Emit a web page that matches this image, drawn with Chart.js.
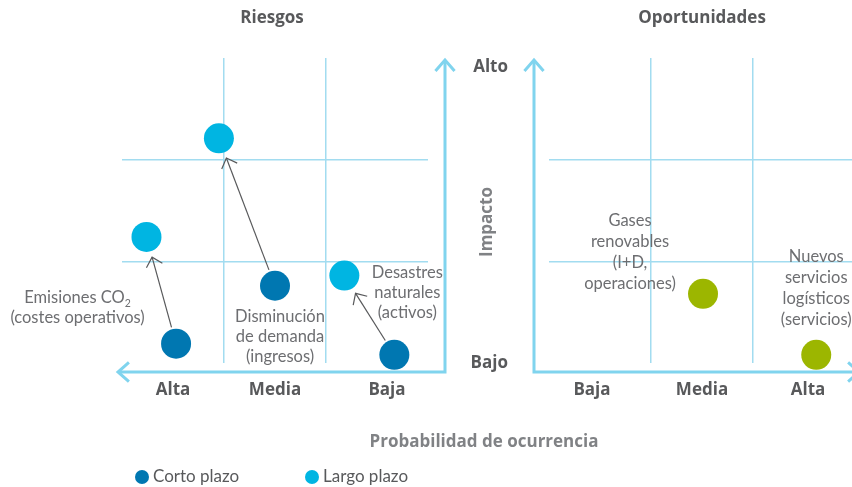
<!DOCTYPE html>
<html><head><meta charset="utf-8">
<script src="https://cdn.jsdelivr.net/npm/chart.js@4.4.1/dist/chart.umd.min.js"></script>
<style>
html,body{margin:0;padding:0;background:#fff;}
#wrap{position:relative;width:852px;height:487px;overflow:hidden;}
canvas{position:absolute;left:0;top:0;}
</style></head><body>
<div id="wrap">
<canvas id="c1" width="870" height="487"></canvas>
<canvas id="c2" width="870" height="487"></canvas>
</div>
<script>
// ---------- DATA ----------
const riskCategories = ['Baja', 'Media', 'Alta'];     // probability bands 0-1, 1-2, 2-3 (axis reversed)
const oppCategories = ['Baja', 'Media', 'Alta'];
const impactTicks = ['Bajo', 'Alto'];
const seriesNames = ['Corto plazo', 'Largo plazo'];
const chartTitles = ['Riesgos', 'Oportunidades'];
const axisTitles = ['Impacto', 'Probabilidad de ocurrencia'];

const riskLabels = [['Emisiones CO₂', '(costes operativos)'], ['Disminución', 'de demanda', '(ingresos)'], ['Desastres', 'naturales', '(activos)']];
const riskShortProb = [2.47, 1.50, 0.33];
const riskShortImpact = [0.19, 0.76, 0.08];
const riskLongProb = [2.76, 2.05, 0.82];
const riskLongImpact = [1.24, 2.21, 0.86];

const oppLabels = [['Gases', 'renovables', '(I+D,', 'operaciones)'], ['Nuevos', 'servicios', 'logísticos', '(servicios)']];
const oppProb = [1.51, 2.62];
const oppImpact = [0.68, 0.08];

// ---------- STYLE ----------
const COL = { dark: '#0077b1', light: '#00b5e2', green: '#9cb600', grid: '#a2dcf0', axis: '#80d4ee', text: '#58595b', note: '#6d6e71', arrow: '#58595b' };
const FB = '"Open Sans", sans-serif';
const FR = 'Lato, sans-serif';
const NOTE_SIZE = 16.5;
const riskNoteOffsets = [[-98.5, -41, 20], [5, 36, 20], [13, -77, 20]];   // relative to short-term point
const oppNoteOffsets = [[-73, -68, 21], [0, -93, 21]];

const pts = (xs, ys) => xs.map((x, i) => ({ x: x, y: ys[i] }));

function arrowHead(ctx, x, y, ang, len, half) {
  ctx.beginPath();
  ctx.moveTo(x - len * Math.cos(ang - half), y - len * Math.sin(ang - half));
  ctx.lineTo(x, y);
  ctx.lineTo(x - len * Math.cos(ang + half), y - len * Math.sin(ang + half));
  ctx.stroke();
}
function drawLines(ctx, lines, cx, y0, lh) {
  ctx.fillStyle = COL.note;
  ctx.textBaseline = 'alphabetic';
  lines.forEach((ln, i) => {
    const y = y0 + i * lh;
    const k = ln.indexOf('₂');
    ctx.font = NOTE_SIZE + 'px ' + FR;
    if (k >= 0) {
      const main = ln.slice(0, k);
      const w1 = ctx.measureText(main).width;
      ctx.font = '10.5px ' + FR;
      const w2 = ctx.measureText('2').width;
      const x0 = cx - (w1 + w2) / 2;
      ctx.textAlign = 'left';
      ctx.font = NOTE_SIZE + 'px ' + FR; ctx.fillText(main, x0, y);
      ctx.font = '10.5px ' + FR; ctx.fillText('2', x0 + w1, y + 4);
    } else {
      ctx.textAlign = 'center';
      ctx.fillText(ln, cx, y);
    }
  });
}

function scaleOpts(reverse) {
  return {
    type: 'linear', min: 0, max: 3, reverse: reverse,
    afterBuildTicks: s => { s.ticks = [{ value: 1 }, { value: 2 }]; },
    ticks: { display: false },
    grid: { color: COL.grid, lineWidth: 1.5, drawTicks: false },
    border: { display: false }
  };
}

const axisPlugin = {
  id: 'axes',
  beforeDatasetsDraw(chart, args, o) {
    const ctx = chart.ctx, ca = chart.chartArea, xs = chart.scales.x;
    ctx.save();
    ctx.strokeStyle = COL.axis; ctx.lineWidth = 3; ctx.lineCap = 'butt'; ctx.lineJoin = 'miter';
    const ax = o.side === 'right' ? ca.right + 17 : ca.left - 15;
    const ay = ca.bottom + 9;
    const xEnd = o.side === 'right' ? ca.left - 4 : ca.right + 4;
    ctx.beginPath();
    ctx.moveTo(ax, ca.top + 2); ctx.lineTo(ax, ay); ctx.lineTo(xEnd, ay);
    ctx.stroke();
    arrowHead(ctx, ax, ca.top + 2, -Math.PI / 2, 14.5, 0.72);
    arrowHead(ctx, xEnd, ay, o.side === 'right' ? Math.PI : 0, 14.5, 0.72);
    // category labels
    ctx.fillStyle = COL.text; ctx.font = 'bold 17px ' + FB;
    ctx.textAlign = 'center'; ctx.textBaseline = 'middle';
    o.cats.forEach((c, i) => ctx.fillText(c, xs.getPixelForValue(i + 0.5) + o.catShift[i], ay + 18));
    // title
    ctx.fillText(o.title, (ca.left + ca.right) / 2 + o.titleShift, ca.top - 40);
    ctx.restore();
  },
  afterDatasetsDraw(chart, args, o) {
    const ctx = chart.ctx, xs = chart.scales.x, ys = chart.scales.y;
    ctx.save();
    if (o.pairs) {
      ctx.strokeStyle = COL.arrow; ctx.lineWidth = 1.2;
      const a = chart.data.datasets[0].data, b = chart.data.datasets[1].data;
      a.forEach((p, i) => {
        const x1 = xs.getPixelForValue(p.x), y1 = ys.getPixelForValue(p.y);
        const x2 = xs.getPixelForValue(b[i].x), y2 = ys.getPixelForValue(b[i].y);
        const d = Math.hypot(x2 - x1, y2 - y1), ux = (x2 - x1) / d, uy = (y2 - y1) / d;
        const sx = x1 + ux * 17, sy = y1 + uy * 17, ex = x2 - ux * 21, ey = y2 - uy * 21;
        ctx.beginPath(); ctx.moveTo(sx, sy); ctx.lineTo(ex, ey); ctx.stroke();
        arrowHead(ctx, ex, ey, Math.atan2(uy, ux), 12, 0.76);
      });
    }
    const base = chart.data.datasets[0].data;
    o.notes.forEach((lines, i) => {
      const off = o.noteOffsets[i];
      drawLines(ctx, lines, xs.getPixelForValue(base[i].x) + off[0], ys.getPixelForValue(base[i].y) + off[1], off[2]);
    });
    if (o.legend) {
      ctx.font = '17px ' + FR; ctx.textBaseline = 'middle'; ctx.textAlign = 'left';
      const lx = [142, 312];
      chart.data.datasets.forEach((ds, i) => {
        ctx.fillStyle = ds.backgroundColor;
        ctx.beginPath(); ctx.arc(lx[i], 477, 7, 0, Math.PI * 2); ctx.fill();
        ctx.fillStyle = COL.text; ctx.fillText(ds.label, lx[i] + 11, 477);
      });
    }
    if (o.shared) {
      const ca = chart.chartArea, ax = ca.left - 15;
      ctx.fillStyle = COL.text; ctx.font = 'bold 17px ' + FB;
      ctx.textAlign = 'right'; ctx.textBaseline = 'middle';
      ctx.fillText(impactTicks[1], ax - 26, ys.getPixelForValue(3) + 9);
      ctx.fillText(impactTicks[0], ax - 26, ys.getPixelForValue(0));
      ctx.fillStyle = '#808285';
      ctx.textAlign = 'center';
      ctx.fillText(axisTitles[1], 484, 442);
      ctx.save();
      ctx.translate(487, 222); ctx.rotate(-Math.PI / 2);
      ctx.fillText(axisTitles[0], 0, 0);
      ctx.restore();
    }
    ctx.restore();
  }
};

const common = (padding) => ({
  responsive: false, animation: false, devicePixelRatio: 1,
  layout: { padding: padding },
  events: []
});

new Chart(document.getElementById('c1'), {
  type: 'scatter',
  data: {
    datasets: [
      { label: seriesNames[0], data: pts(riskShortProb, riskShortImpact), backgroundColor: COL.dark, pointRadius: 15, pointBorderWidth: 0, clip: false },
      { label: seriesNames[1], data: pts(riskLongProb, riskLongImpact), backgroundColor: COL.light, pointRadius: 15, pointBorderWidth: 0, clip: false }
    ]
  },
  options: Object.assign(common({ left: 122, right: 442, top: 58, bottom: 124 }), {
    scales: { x: scaleOpts(true), y: scaleOpts(false) },
    plugins: {
      legend: { display: false }, tooltip: { enabled: false },
      axes: { side: 'right', cats: riskCategories, catShift: [10, 0, 0], title: chartTitles[0], titleShift: -3, pairs: true, notes: riskLabels, noteOffsets: riskNoteOffsets, legend: true }
    }
  }),
  plugins: [axisPlugin]
});

new Chart(document.getElementById('c2'), {
  type: 'scatter',
  data: {
    datasets: [
      { label: chartTitles[1], data: pts(oppProb, oppImpact), backgroundColor: COL.green, pointRadius: 15, pointBorderWidth: 0, clip: false }
    ]
  },
  options: Object.assign(common({ left: 549, right: 15, top: 58, bottom: 124 }), {
    scales: { x: scaleOpts(false), y: scaleOpts(false) },
    plugins: {
      legend: { display: false }, tooltip: { enabled: false },
      axes: { side: 'left', cats: oppCategories, catShift: [-8, 0, 4], title: chartTitles[1], titleShift: 0, pairs: false, notes: oppLabels, noteOffsets: oppNoteOffsets, legend: false, shared: true }
    }
  }),
  plugins: [axisPlugin]
});
</script>
</body></html>
